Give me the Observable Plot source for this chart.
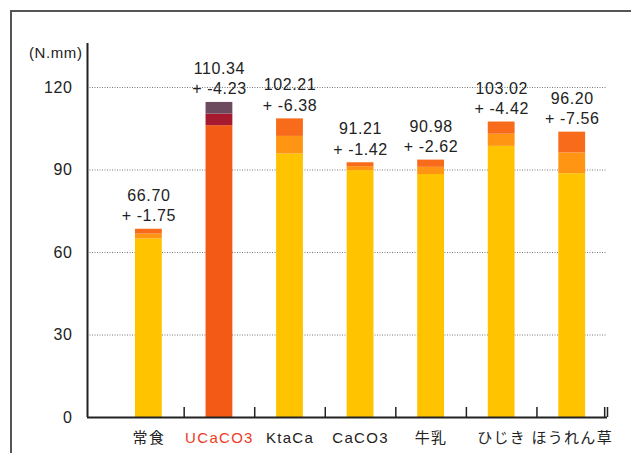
<!DOCTYPE html>
<html>
<head>
<meta charset="utf-8">
<script src="https://cdn.jsdelivr.net/npm/d3@7"></script>
<script src="https://cdn.jsdelivr.net/npm/@observablehq/plot@0.6"></script>
<style>
  html, body { margin: 0; padding: 0; background: #fff; }
  #wrap { position: relative; width: 631px; height: 453px; overflow: hidden; }
  #border { position: absolute; left: 10px; top: 10px; width: 700px; height: 600px;
            border: 2px solid #555; box-sizing: border-box; }
  #chart { position: absolute; left: 0; top: 0; }
  #chart svg { font-family: "Liberation Sans", "Noto Sans CJK JP", sans-serif; letter-spacing: 0.6px; }
</style>
</head>
<body>
<div id="wrap">
  <div id="border"></div>
  <div id="chart"></div>
</div>
<script>
// Fracture energy by diet group: mean and standard deviation
const categories = ["常食", "UCaCO3", "KtaCa", "CaCO3", "牛乳", "ひじき", "ほうれん草"];
const means = [66.70, 110.34, 102.21, 91.21, 90.98, 103.02, 96.20];
const sds = [1.75, 4.23, 6.38, 1.42, 2.62, 4.42, 7.56];
const yTicks = [0, 30, 60, 90, 120];
const unitLabel = "(N.mm)";
const highlight = "UCaCO3";

// segment colours: below (mean - sd), mean - sd → mean, mean → mean + sd
const normalColors = ["#FFC300", "#FF9512", "#F76B1A"];
const highlightColors = ["#F25A16", "#A6192E", "#6C4B5E"];

const rows = categories.map((c, i) => ({cat: c, i, mean: means[i], sd: sds[i]}));
const segments = rows.flatMap(d => {
  const cols = d.cat === highlight ? highlightColors : normalColors;
  return [
    {i: d.i, y1: 0, y2: d.mean - d.sd, fill: cols[0]},
    {i: d.i, y1: d.mean - d.sd, y2: d.mean, fill: cols[1]},
    {i: d.i, y1: d.mean, y2: d.mean + d.sd, fill: cols[2]}
  ];
});
const boundaries = categories.map((c, i) => i + 0.5);
const xDomain = [-0.87, 6.5];
const half = 0.19;

const chart = Plot.plot({
  width: 631,
  height: 453,
  marginLeft: 87,
  marginRight: 24,
  marginTop: 43,
  marginBottom: 36,
  style: {fontSize: "16px", color: "#222"},
  x: {type: "linear", domain: xDomain, axis: null},
  y: {domain: [0, 136], axis: null},
  marks: [
    Plot.ruleY(yTicks.filter(t => t > 0), {stroke: "#777", strokeWidth: 1, strokeDasharray: "1,1.5"}),
    Plot.rectY(segments, {x1: d => d.i - half, x2: d => d.i + half, y1: "y1", y2: "y2", fill: "fill"}),
    Plot.ruleX([xDomain[0]], {stroke: "#222", strokeWidth: 2}),
    Plot.ruleY([0], {stroke: "#222", strokeWidth: 2}),
    Plot.ruleX(boundaries.concat([xDomain[1] - 0.04]), {y1: 0, y2: 0, insetTop: -10, stroke: "#222", strokeWidth: 1.5}),
    Plot.text(yTicks, {x: xDomain[0], y: d => d, text: d => String(d), textAnchor: "end", dx: -15, fill: "#222"}),
    Plot.text([unitLabel], {frameAnchor: "top-left", textAnchor: "end", dx: -5, dy: 4, fill: "#222", fontSize: 15}),
    Plot.text(rows, {x: "i", y: 0, text: "cat", dy: 21, fontSize: 15, fill: d => d.cat === highlight ? "#EE3B24" : "#222"}),
    Plot.text(rows, {
      x: "i", y: d => d.mean + d.sd,
      text: d => `${d.mean.toFixed(2)}\n+ -${d.sd.toFixed(2)}`,
      lineAnchor: "bottom", lineHeight: 1.28, dy: -8, fill: "#222"
    })
  ]
});
// wider tracking on the category labels
chart.querySelectorAll('g[aria-label="text"]')[2].style.letterSpacing = "1.3px";
document.getElementById("chart").appendChild(chart);
</script>
</body>
</html>
